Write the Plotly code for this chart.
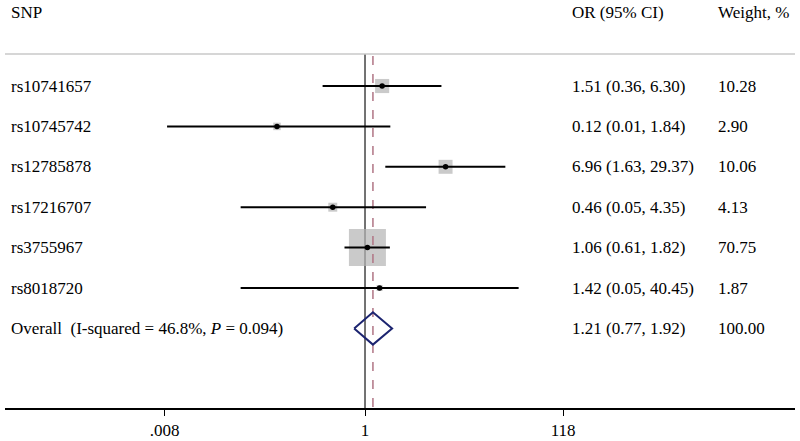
import numpy as np
import plotly.graph_objects as go

# ---- data ----
snps = ["rs10741657", "rs10745742", "rs12785878", "rs17216707", "rs3755967", "rs8018720"]
or_est = [1.51, 0.12, 6.96, 0.46, 1.06, 1.42]
ci_low = [0.36, 0.0085, 1.63, 0.05, 0.61, 0.05]
ci_high = [6.30, 1.84, 29.37, 4.35, 1.82, 40.45]
weights = [10.28, 2.90, 10.06, 4.13, 70.75, 1.87]
or_labels = ["1.51 (0.36, 6.30)", "0.12 (0.01, 1.84)", "6.96 (1.63, 29.37)",
             "0.46 (0.05, 4.35)", "1.06 (0.61, 1.82)", "1.42 (0.05, 40.45)"]
weight_labels = ["10.28", "2.90", "10.06", "4.13", "70.75", "1.87"]

overall_label = "Overall  (I-squared = 46.8%, <i>P</i> = 0.094)"
overall_est = 1.21
overall_low = 0.77
overall_high = 1.92
overall_or_label = "1.21 (0.77, 1.92)"
overall_weight_label = "100.00"

tick_vals = [0.008, 1, 118]
tick_text = [".008", "1", "118"]
x_log_range = [-3.766, 4.498]

FONT = "Liberation Serif, Times New Roman, serif"
FS = 17
rows = list(range(1, len(snps) + 1))
overall_row = len(snps) + 1
y_top = -1.129
y_bottom = 8.97
header_y = -0.83
sep_y = 0.208

fig = go.Figure()

# reference line at 1
fig.add_trace(go.Scatter(x=[1, 1], y=[sep_y, y_bottom], mode="lines",
                         line=dict(color="#444444", width=1.5), showlegend=False,
                         hoverinfo="skip"))

# weight boxes
sizes = [37 * np.sqrt(w / max(weights)) for w in weights]
fig.add_trace(go.Scatter(x=or_est, y=rows, mode="markers",
                         marker=dict(symbol="square", size=sizes, color="#b4b4b4",
                                     line=dict(width=0)),
                         showlegend=False, hoverinfo="skip"))

# overall dashed line
fig.add_trace(go.Scatter(x=[overall_est, overall_est], y=[sep_y + 0.05, y_bottom], mode="lines",
                         line=dict(color="#b07585", width=1.5, dash="dash"),
                         showlegend=False, hoverinfo="skip"))

# CI lines
for r, lo, hi in zip(rows, ci_low, ci_high):
    fig.add_trace(go.Scatter(x=[lo, hi], y=[r, r], mode="lines",
                             line=dict(color="black", width=2), showlegend=False,
                             hoverinfo="skip"))

# point estimates
fig.add_trace(go.Scatter(x=or_est, y=rows, mode="markers",
                         marker=dict(symbol="circle", size=5.5, color="black"),
                         showlegend=False, hoverinfo="skip"))

# diamond
h = 0.4
fig.add_trace(go.Scatter(x=[overall_low, overall_est, overall_high, overall_est, overall_low],
                         y=[overall_row, overall_row - h, overall_row, overall_row + h, overall_row],
                         mode="lines", line=dict(color="#1c2470", width=2),
                         showlegend=False, hoverinfo="skip"))

# separator line
fig.add_shape(type="line", xref="paper", yref="y", x0=0, x1=1, y0=sep_y, y1=sep_y,
              line=dict(color="#c8c8c8", width=1.5))

# text columns
def txt(x, y, s):
    fig.add_annotation(xref="paper", yref="y", x=x, y=y, text=s, showarrow=False,
                       xanchor="left", yanchor="middle",
                       font=dict(family=FONT, size=FS, color="black"))

col_snp = (9 - 5) / 790
col_or = (570 - 5) / 790
col_w = (716 - 5) / 790

txt(col_snp, header_y, "SNP")
txt(col_or, header_y, "OR (95% CI)")
txt(col_w, header_y, "Weight, %")
for r, s, o, w in zip(rows, snps, or_labels, weight_labels):
    txt(col_snp, r, s)
    txt(col_or, r, o)
    txt(col_w, r, w)
txt(col_snp, overall_row, overall_label)
txt(col_or, overall_row, overall_or_label)
txt(col_w, overall_row, overall_weight_label)

fig.update_layout(
    width=800, height=441,
    margin=dict(l=5, r=5, t=0, b=33),
    paper_bgcolor="white", plot_bgcolor="white",
    xaxis=dict(type="log", range=x_log_range, tickvals=tick_vals, ticktext=tick_text,
               showgrid=False, zeroline=False, showline=True, linecolor="black",
               linewidth=1.5, ticks="outside", ticklen=6, tickcolor="black",
               tickfont=dict(family=FONT, size=FS, color="black")),
    yaxis=dict(range=[y_bottom, y_top], showgrid=False, zeroline=False,
               showticklabels=False, showline=False),
    showlegend=False,
)

fig.write_html("out.html", config={"displayModeBar": False},
               post_script="document.body.style.margin='0';document.body.style.padding='0';")
